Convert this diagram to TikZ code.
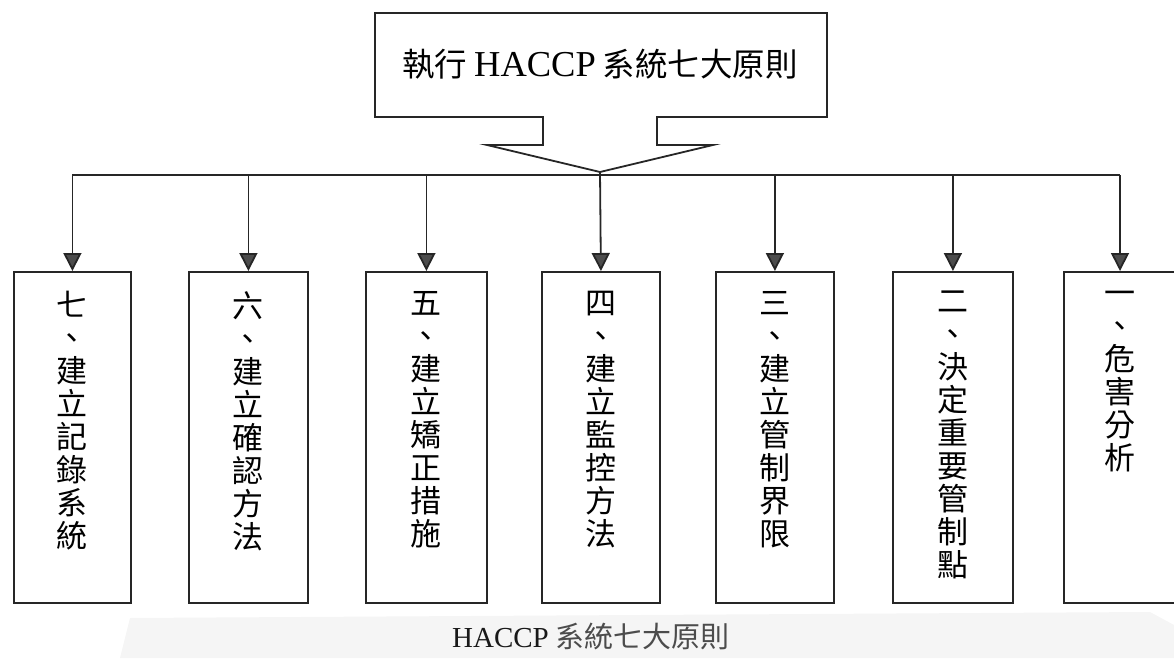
\documentclass[tikz,border=0pt]{standalone}
\usepackage{fontspec}
\setmainfont{Liberation Serif}
\newfontfamily\cjk{Noto Sans CJK TC}
\usetikzlibrary{arrows.meta}
\tikzset{
  box/.style={draw=black!85, line width=1.8pt, minimum height=331pt, anchor=north west, inner sep=0pt},
  coltext/.style={anchor=north, align=center, inner sep=0pt, font={\cjk\fontsize{31}{33}\selectfont}},
  arr/.style={line width=1.8pt, draw=black!85, -{Triangle[width=18pt,length=18pt,fill=black!70]}},
  line/.style={line width=1.8pt, draw=black!85}
}
\begin{document}
\begin{tikzpicture}[x=1pt,y=-1pt]
\useasboundingbox (0,0) rectangle (1174,658);
\clip (0,0) rectangle (1174,658);
% faint scan band behind caption
\fill[black!4] (130,618) -- (1150,612) -- (1174,625) -- (1174,658) -- (120,658) -- cycle;
% callout
\draw[line] (375,13) -- (827,13) -- (827,117) -- (657,117) -- (657,145) -- (713,145)
  -- (600,172) -- (487,145) -- (543,145) -- (543,117) -- (375,117) -- cycle;
\coordinate (tip) at (600,172);
\node[inner sep=0pt] (title) at (600,64) {{\cjk\fontsize{32.5}{33}\selectfont 執行}\hspace{7pt}{\fontsize{36.5}{37}\selectfont HACCP}\hspace{7pt}{\cjk\fontsize{32.5}{33}\selectfont 系統七大原則}};
% boxes
\node[box, minimum width=117pt] (b7) at (13,271) {};
\node[box, minimum width=119pt] (b6) at (188,271) {};
\node[box, minimum width=121pt] (b5) at (365,271) {};
\node[box, minimum width=118pt] (b4) at (541,271) {};
\node[box, minimum width=118pt] (b3) at (715,271) {};
\node[box, minimum width=120pt] (b2) at (892,271) {};
\node[box, minimum width=130pt] (b1) at (1063,271) {};
% column texts
\node[coltext] (t7) at ([yshift=-20pt]b7.north) {七\\、\\建\\立\\記\\錄\\系\\統};
\node[coltext] (t6) at ([yshift=-20pt]b6.north) {六\\、\\建\\立\\確\\認\\方\\法};
\node[coltext] (t5) at ([yshift=-20pt]b5.north) {五\\、\\建\\立\\矯\\正\\措\\施};
\node[coltext] (t4) at ([yshift=-20pt]b4.north) {四\\、\\建\\立\\監\\控\\方\\法};
\node[coltext] (t3) at ([yshift=-20pt]b3.north) {三\\、\\建\\立\\管\\制\\界\\限};
\node[coltext] (t2) at ([yshift=-20pt]b2.north) {二\\、\\決\\定\\重\\要\\管\\制\\點};
\node[coltext] (t1) at ([yshift=-20pt]1120,271) {一\\、\\危\\害\\分\\析};
% bar and arrows
\coordinate (c7) at (b7.north |- 0,175);
\coordinate (c6) at (b6.north |- 0,175);
\coordinate (c5) at (b5.north |- 0,175);
\coordinate (c3) at (b3.north |- 0,175);
\coordinate (c2) at (b2.north |- 0,175);
\coordinate (c1) at (1120,175);
\coordinate (a1) at (1120,271);
\draw[line] (c7) -- (c1);
\draw[arr] (c7) -- (b7.north);
\draw[arr] (c6) -- (b6.north);
\draw[arr] (c5) -- (b5.north);
\draw[arr] (tip) -- (b4.north);
\draw[arr] (c3) -- (b3.north);
\draw[arr] (c2) -- (b2.north);
\draw[arr] (c1) -- (a1);
% caption
\node[inner sep=0pt] (cap) at (591,636) {{\fontsize{29}{29}\selectfont\color{black!90}HACCP}\hspace{7pt}{\cjk\fontsize{29}{29}\selectfont\color{black!70}系統七大原則}};
\end{tikzpicture}
\end{document}
